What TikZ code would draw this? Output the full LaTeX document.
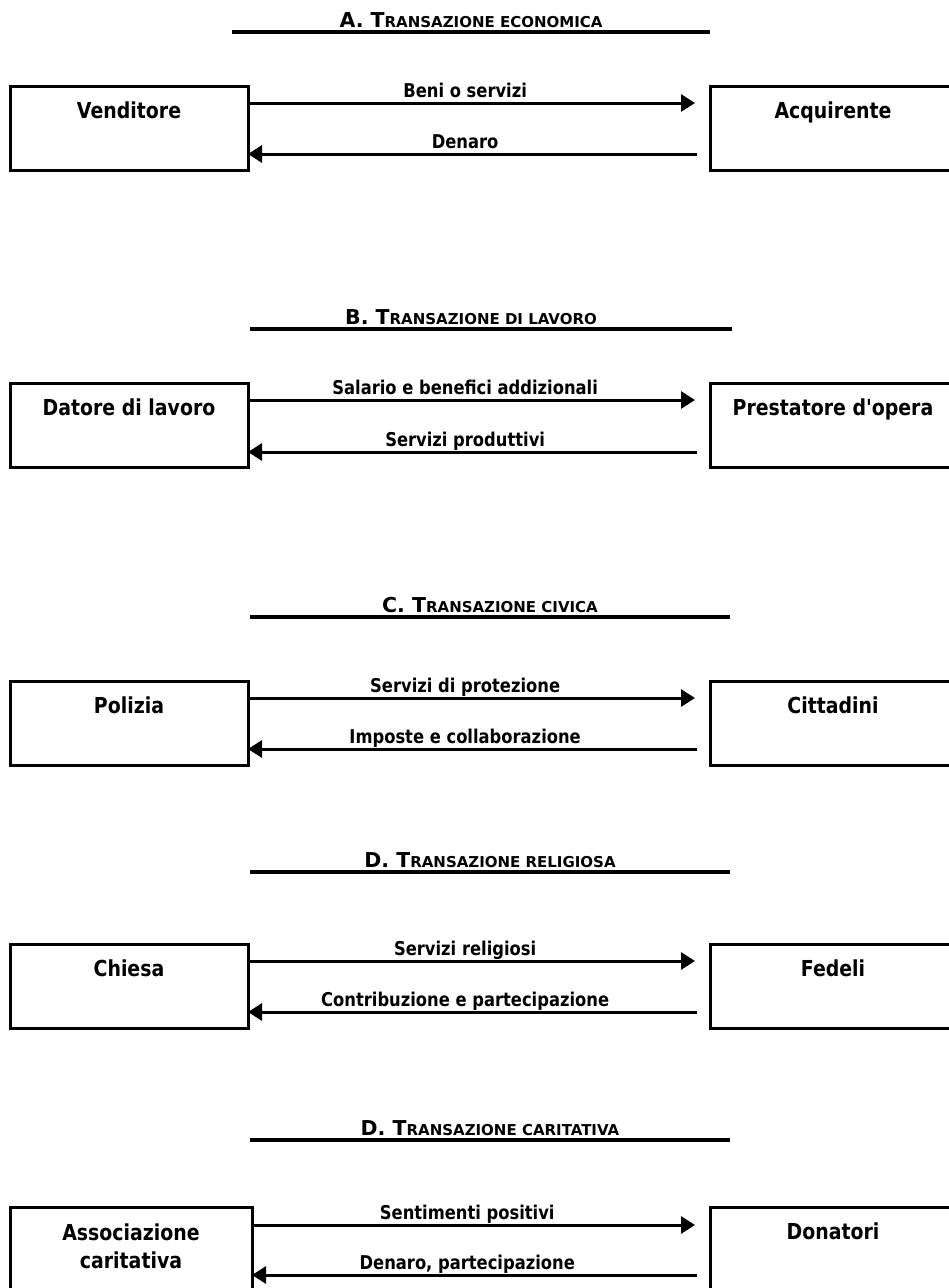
\documentclass[tikz,border=0pt]{standalone}
\usepackage{fontspec}
\usetikzlibrary{arrows.meta,calc}
\newfontfamily\nodefont{DejaVu Sans}[FakeStretch=0.86]
\newfontfamily\titlefont{DejaVu Sans}
% faked small capitals for the section headings
\newcommand\sctitle[2]{{\fontsize{20.5}{22}\selectfont #1}{\fontsize{15}{17}\selectfont #2}}

\begin{document}
\begin{tikzpicture}[x=1pt,y=-1pt,
  box/.style={draw, line width=3pt, rectangle, minimum height=84pt, outer sep=0pt, inner sep=0pt},
  leftbox/.style={box, minimum width=238pt},
  rightbox/.style={box, minimum width=246pt},
  boxtext/.style={font=\nodefont\bfseries\fontsize{22}{28}\selectfont, anchor=base, inner sep=0pt},
  boxtwo/.style={font=\nodefont\bfseries\fontsize{22}{28}\selectfont, align=center, inner sep=0pt},
  flow/.style={line width=3pt, -{Triangle[length=14pt,width=17pt]}},
  flowlabel/.style={font=\nodefont\bfseries\fontsize{19}{22}\selectfont, anchor=base, inner sep=0pt, yshift=6pt, pos=0.47},
  titlerule/.style={line width=3.5pt},
  titletext/.style={font=\titlefont\bfseries, anchor=base, inner sep=0pt}
]
\fill[white] (0,0) rectangle (949,1288);
\useasboundingbox (0,0) rectangle (949,1288);
\clip (0,0) rectangle (949,1288);

% A. economic transaction
\node[titletext] (tA) at (471,27) {\sctitle{A. T}{RANSAZIONE ECONOMICA}};
\draw[titlerule] (232,32) -- (710,32);
\node[leftbox] (ven) at (129,128) {};
\node[rightbox] (acq) at (833,128) {};
\node[boxtext] (venT) at (129,118) {Venditore};
\node[boxtext] (acqT) at (833,118) {Acquirente};
\draw[flow, shorten >=15pt] ($(ven.north east)+(0,17)$) -- node[flowlabel] (lA1) {Beni o servizi} ($(acq.north west)+(0,17)$);
\draw[flow, shorten <=13pt] ($(acq.north west)+(0,68)$) -- node[flowlabel, pos=0.53] (lA2) {Denaro} ($(ven.north east)+(0,68)$);

% B. labour transaction
\node[titletext] (tB) at (471,324) {\sctitle{B. T}{RANSAZIONE DI LAVORO}};
\draw[titlerule] (250,329) -- (732,329);
\node[leftbox] (dat) at (129,425) {};
\node[rightbox] (pre) at (833,425) {};
\node[boxtext] (datT) at (129,415) {Datore di lavoro};
\node[boxtext] (preT) at (833,415) {Prestatore d'opera};
\draw[flow, shorten >=15pt] ($(dat.north east)+(0,17)$) -- node[flowlabel] (lB1) {Salario e benefici addizionali} ($(pre.north west)+(0,17)$);
\draw[flow, shorten <=13pt] ($(pre.north west)+(0,69)$) -- node[flowlabel, pos=0.53] (lB2) {Servizi produttivi} ($(dat.north east)+(0,69)$);

% C. civic transaction
\node[titletext] (tC) at (490,612) {\sctitle{C. T}{RANSAZIONE CIVICA}};
\draw[titlerule] (250,617) -- (730,617);
\node[leftbox] (pol) at (129,723) {};
\node[rightbox] (cit) at (833,723) {};
\node[boxtext] (polT) at (129,713) {Polizia};
\node[boxtext] (citT) at (833,713) {Cittadini};
\draw[flow, shorten >=15pt] ($(pol.north east)+(0,17)$) -- node[flowlabel] (lC1) {Servizi di protezione} ($(cit.north west)+(0,17)$);
\draw[flow, shorten <=13pt] ($(cit.north west)+(0,68)$) -- node[flowlabel, pos=0.53] (lC2) {Imposte e collaborazione} ($(pol.north east)+(0,68)$);

% D. religious transaction
\node[titletext] (tD) at (490,867) {\sctitle{D. T}{RANSAZIONE RELIGIOSA}};
\draw[titlerule] (250,872) -- (730,872);
\node[leftbox] (chi) at (129,986) {};
\node[rightbox] (fed) at (833,986) {};
\node[boxtext] (chiT) at (129,976) {Chiesa};
\node[boxtext] (fedT) at (833,976) {Fedeli};
\draw[flow, shorten >=15pt] ($(chi.north east)+(0,17)$) -- node[flowlabel] (lD1) {Servizi religiosi} ($(fed.north west)+(0,17)$);
\draw[flow, shorten <=13pt] ($(fed.north west)+(0,68)$) -- node[flowlabel, pos=0.53] (lD2) {Contribuzione e partecipazione} ($(chi.north east)+(0,68)$);

% charitable transaction
\node[titletext] (tE) at (490,1135) {\sctitle{D. T}{RANSAZIONE CARITATIVA}};
\draw[titlerule] (250,1140) -- (730,1140);
\node[leftbox, minimum height=100pt, minimum width=242pt] (ass) at (131,1257) {};
\node[rightbox, minimum height=100pt] (don) at (833,1257) {};
\node[boxtwo] (assT) at (131,1246) {Associazione\\caritativa};
\node[boxtext] (donT) at (833,1239) {Donatori};
\draw[flow, shorten >=15pt] ($(ass.north east)+(0,18)$) -- node[flowlabel] (lE1) {Sentimenti positivi} ($(don.north west)+(0,18)$);
\draw[flow, shorten <=13pt] ($(don.north west)+(0,68)$) -- node[flowlabel, pos=0.53] (lE2) {Denaro, partecipazione} ($(ass.north east)+(0,68)$);
\end{tikzpicture}
\end{document}
